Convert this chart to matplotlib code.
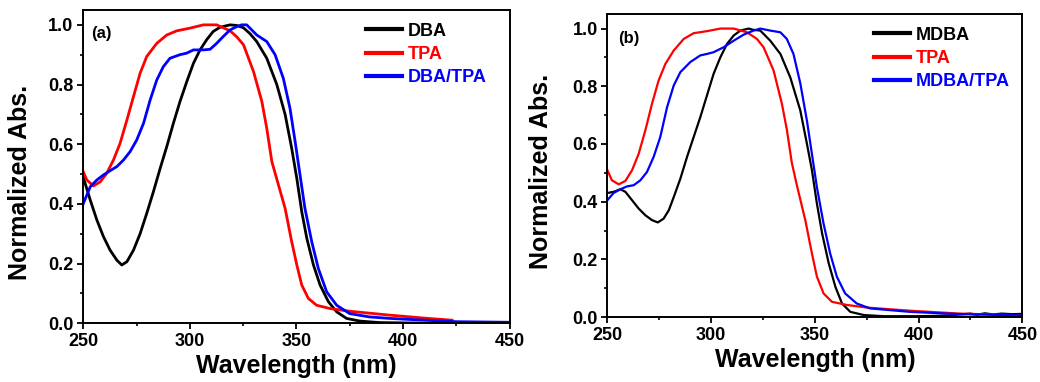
import matplotlib
matplotlib.use('Agg')
import matplotlib.pyplot as plt
from matplotlib.ticker import MultipleLocator

plt.rcParams['font.family'] = ['Liberation Sans', 'DejaVu Sans']
plt.rcParams['font.weight'] = 'bold'

# ---- (a) DBA / TPA / DBA-TPA ----
dba_x = [250, 253.3, 256.4, 259.5, 262.6, 265.8, 268.1, 270.5, 273.6, 276.7, 279.8, 282.9,
         286.1, 289.2, 292.3, 295.4, 298.6, 301.7, 304.8, 307.9, 311, 314.2, 318.9, 322,
         325.2, 328.3, 331.4, 336.1, 340.8, 344.7, 347.8, 350.2, 352.5, 354.9, 358, 361.1,
         365, 368.9, 373.5, 379.8, 389, 410, 450]
dba_y = [0.49, 0.413, 0.346, 0.29, 0.245, 0.211, 0.195, 0.206, 0.245, 0.3, 0.368, 0.44,
         0.519, 0.592, 0.67, 0.743, 0.81, 0.871, 0.916, 0.95, 0.978, 0.992, 1.0, 0.998,
         0.99, 0.97, 0.944, 0.888, 0.8, 0.7, 0.586, 0.485, 0.374, 0.284, 0.195, 0.128,
         0.072, 0.038, 0.016, 0.007, 0.002, 0.0, 0.0]

tpa_a_x = [250, 251.7, 254.8, 258, 261, 264.2, 267.3, 270.5, 273.6, 276.7, 279.8, 284.5,
           289.2, 293.9, 300.1, 306.4, 312.6, 318.9, 322, 325.2, 329.9, 333.8, 336.1, 338.5,
           341.6, 344.7, 347.8, 350.2, 352.5, 355.6, 359.5, 365.8, 375, 393.7, 410, 423]
tpa_a_y = [0.508, 0.48, 0.46, 0.474, 0.502, 0.547, 0.603, 0.681, 0.76, 0.838, 0.894, 0.938,
           0.966, 0.98, 0.989, 1.0, 1.0, 0.98, 0.96, 0.933, 0.843, 0.743, 0.653, 0.541,
           0.463, 0.385, 0.273, 0.195, 0.128, 0.083, 0.06, 0.049, 0.04, 0.027, 0.017, 0.01]

mix_a_x = [250, 253.3, 256.4, 259.5, 262.6, 265.8, 268.9, 272, 275.1, 278.3, 281.4, 284.5,
           287.6, 290.7, 295.4, 298.5, 301.7, 306.4, 309.5, 312.6, 315.7, 318.9, 322, 324.3,
           326.7, 331.4, 336.1, 340, 343.9, 347, 349.4, 351.7, 354, 357.2, 360.3, 364.2,
           368.9, 375, 384.3, 393.7, 410, 425, 450]
mix_a_y = [0.4, 0.457, 0.48, 0.497, 0.511, 0.525, 0.547, 0.575, 0.614, 0.67, 0.748, 0.815,
           0.86, 0.888, 0.9, 0.905, 0.916, 0.916, 0.918, 0.938, 0.961, 0.983, 0.994, 1.0,
           1.0, 0.966, 0.944, 0.9, 0.82, 0.72, 0.609, 0.497, 0.385, 0.273, 0.183, 0.105,
           0.06, 0.032, 0.021, 0.016, 0.01, 0.005, 0.003]

# ---- (b) MDBA / TPA / MDBA-TPA ----
mdba_x = [250, 253, 256.3, 258.7, 261.9, 265.1, 268.3, 271.5, 274.3, 277.1, 279.6, 282,
          285.2, 288.4, 291.6, 294.8, 298, 301.2, 304.5, 307.7, 310.9, 314.1, 318.1, 320,
          323.7, 328.5, 333.4, 338.2, 343, 346.2, 348.6, 351, 353.5, 356.7, 359.9, 363.1,
          367.1, 373.6, 383.2, 392, 400, 408, 415, 420, 425, 428, 432, 436, 440, 445, 450]
mdba_y = [0.43, 0.434, 0.443, 0.434, 0.405, 0.376, 0.353, 0.336, 0.328, 0.341, 0.37,
          0.416, 0.48, 0.555, 0.624, 0.693, 0.768, 0.843, 0.901, 0.947, 0.976, 0.993, 1.0,
          0.996, 0.993, 0.958, 0.912, 0.83, 0.716, 0.6, 0.509, 0.393, 0.29, 0.186, 0.105,
          0.047, 0.018, 0.007, 0.003, 0.003, 0.003, 0.004, 0.006, 0.009, 0.012, 0.008,
          0.013, 0.009, 0.012, 0.01, 0.011]

tpa_b_x = [250, 252.2, 255.5, 258.7, 261.9, 265.1, 268.3, 271.5, 274.7, 278, 282, 286.8,
           291.6, 298, 304.5, 310.9, 317.3, 322.1, 325.3, 330.1, 334.1, 336.5, 338.9, 341.4,
           345.4, 348.6, 351, 354.2, 358.2, 365.4, 375, 395.9, 420, 450]
tpa_b_y = [0.509, 0.474, 0.46, 0.472, 0.509, 0.566, 0.647, 0.739, 0.82, 0.878, 0.924,
           0.964, 0.984, 0.991, 1.0, 1.0, 0.987, 0.964, 0.935, 0.855, 0.74, 0.65, 0.535,
           0.455, 0.336, 0.22, 0.14, 0.082, 0.053, 0.042, 0.033, 0.022, 0.012, 0.006]

mix_b_x = [250, 253, 256.3, 259.5, 262.7, 265.9, 269.1, 272.3, 275.5, 278.8, 282, 285.2,
           290, 294.8, 298, 301.2, 306, 310.9, 315.7, 320.5, 323.7, 328.5, 333.4, 336.5,
           339.7, 343, 346.2, 348.6, 351, 354.2, 357.4, 360.6, 364.6, 370.2, 376.6, 395.9,
           420, 450]
mix_b_y = [0.405, 0.43, 0.443, 0.453, 0.457, 0.474, 0.503, 0.555, 0.624, 0.728, 0.803,
           0.849, 0.884, 0.907, 0.912, 0.918, 0.935, 0.958, 0.979, 0.993, 1.0, 0.993, 0.987,
           0.964, 0.912, 0.81, 0.68, 0.565, 0.45, 0.324, 0.22, 0.14, 0.082, 0.047, 0.03,
           0.018, 0.01, 0.006]


def style_axes(ax):
    ax.set_xlim(250, 450)
    ax.set_ylim(0, 1.05)
    ax.xaxis.set_major_locator(MultipleLocator(50))
    ax.xaxis.set_minor_locator(MultipleLocator(25))
    ax.yaxis.set_minor_locator(MultipleLocator(0.1))
    ax.set_yticks([0, 0.2, 0.4, 0.6, 0.8, 1.0])
    ax.set_yticklabels(['0.0', '0.2', '0.4', '0.6', '0.8', '1.0'])
    ax.tick_params(which='major', direction='out', length=4.5, width=1.3,
                   labelsize=13, pad=2.5)
    ax.tick_params(which='minor', direction='out', length=2.5, width=1.2)
    for s in ax.spines.values():
        s.set_linewidth(1.4)
    ax.set_xlabel('Wavelength (nm)', fontsize=18, fontweight='bold', labelpad=3)
    ax.set_ylabel('Normalized Abs.', fontsize=18, fontweight='bold')


fig = plt.figure(figsize=(10.4, 3.82), dpi=100)
ax1 = fig.add_axes([0.080, 0.154, 0.410, 0.820])
ax2 = fig.add_axes([0.584, 0.170, 0.399, 0.793])

ax1.plot(dba_x, dba_y, color='black', lw=2.0, label='DBA')
ax1.plot(tpa_a_x, tpa_a_y, color='red', lw=2.0, label='TPA')
ax1.plot(mix_a_x, mix_a_y, color='blue', lw=2.0, label='DBA/TPA')
style_axes(ax1)
ax1.yaxis.set_label_coords(-0.119, 0.449)
ax1.text(0.018, 0.925, '(a)', transform=ax1.transAxes, fontsize=12, fontweight='bold',
         va='center')

ax2.plot(mdba_x, mdba_y, color='black', lw=1.6, label='MDBA')
ax2.plot(tpa_b_x, tpa_b_y, color='red', lw=1.6, label='TPA')
ax2.plot(mix_b_x, mix_b_y, color='blue', lw=1.6, label='MDBA/TPA')
style_axes(ax2)
ax2.yaxis.set_label_coords(-0.130, 0.48)
ax2.text(0.025, 0.918, '(b)', transform=ax2.transAxes, fontsize=12, fontweight='bold',
         va='center')

for ax, anchor in ((ax1, (0.975, 1.0)), (ax2, (1.0, 1.0))):
    leg = ax.legend(loc='upper right', bbox_to_anchor=anchor, frameon=False,
                    fontsize=13, labelcolor='linecolor', handlelength=2.0,
                    handletextpad=0.3, labelspacing=0.35, borderaxespad=0.4,
                    borderpad=0.3)
    for line in leg.get_lines():
        line.set_linewidth(3.0)
    for t in leg.get_texts():
        t.set_fontweight('bold')

fig.savefig('out.png', dpi=100)
